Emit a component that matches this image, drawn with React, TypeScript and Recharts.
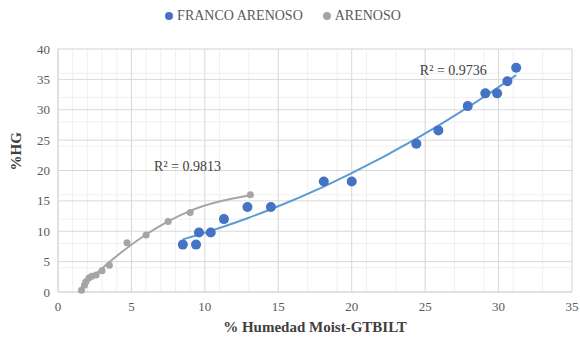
import {
  ComposedChart,
  Scatter,
  Line,
  XAxis,
  YAxis,
  CartesianGrid,
  ReferenceDot,
} from "recharts";

// FRANCO ARENOSO
const francoX = [8.5, 9.4, 9.6, 10.4, 11.3, 12.9, 14.5, 18.1, 20.0, 24.4, 25.9, 27.9, 29.1, 29.9, 30.6, 31.2];
const francoY = [7.8, 7.8, 9.8, 9.8, 12.0, 14.0, 14.0, 18.2, 18.2, 24.4, 26.6, 30.6, 32.7, 32.7, 34.7, 36.9];

// ARENOSO
const arenosoX = [1.6, 1.8, 1.9, 2.1, 2.3, 2.6, 3.0, 3.5, 4.7, 6.0, 7.5, 9.0, 13.1];
const arenosoY = [0.3, 1.1, 1.7, 2.3, 2.6, 2.8, 3.5, 4.4, 8.1, 9.4, 11.6, 13.1, 16.0];

const xTicks = [0, 5, 10, 15, 20, 25, 30, 35];
const yTicks = [0, 5, 10, 15, 20, 25, 30, 35, 40];
const minorX = Array.from({ length: 36 }, (_, i) => i);
const minorY = Array.from({ length: 41 }, (_, i) => i);

const BLUE = "#4472C4";
const BLUE_LINE = "#5B9BD5";
const GRAY = "#A5A5A5";
const FONT = "Liberation Serif";

const toPoints = (xs: number[], ys: number[]) => xs.map((x, i) => ({ x, y: ys[i] }));

// least squares, order 2 (same as the spreadsheet trendline)
function quadFit(xs: number[], ys: number[]) {
  let s0 = 0, s1 = 0, s2 = 0, s3 = 0, s4 = 0, t0 = 0, t1 = 0, t2 = 0;
  xs.forEach((x, i) => {
    const y = ys[i];
    s0 += 1; s1 += x; s2 += x * x; s3 += x * x * x; s4 += x * x * x * x;
    t0 += y; t1 += x * y; t2 += x * x * y;
  });
  const det = (m: number[][]) =>
    m[0][0] * (m[1][1] * m[2][2] - m[1][2] * m[2][1]) -
    m[0][1] * (m[1][0] * m[2][2] - m[1][2] * m[2][0]) +
    m[0][2] * (m[1][0] * m[2][1] - m[1][1] * m[2][0]);
  const A = [[s0, s1, s2], [s1, s2, s3], [s2, s3, s4]];
  const b = [t0, t1, t2];
  const D = det(A);
  const coef = [0, 1, 2].map((c) => det(A.map((row, r) => row.map((v, k) => (k === c ? b[r] : v)))) / D);
  return xs
    .slice()
    .sort((a, b) => a - b)
    .map((x) => ({ x, y: coef[0] + coef[1] * x + coef[2] * x * x }));
}

const francoData = toPoints(francoX, francoY);
const arenosoData = toPoints(arenosoX, arenosoY);
const francoFit = quadFit(francoX, francoY);
const arenosoFit = quadFit(arenosoX, arenosoY);

const dot = (fill: string, r: number) => (props: any) =>
  <circle cx={props.cx} cy={props.cy} r={r} fill={fill} />;

const legendItems = [
  { name: "FRANCO ARENOSO", color: BLUE },
  { name: "ARENOSO", color: GRAY },
];

const App = () => {
  return (
    <div style={{ position: "relative", width: 580, height: 344, fontFamily: FONT }}>
      <style>{"body{margin:0}"}</style>
      <div
        style={{
          position: "absolute",
          top: 8,
          left: 0,
          width: 566,
          display: "flex",
          justifyContent: "center",
          gap: 20,
          fontSize: 14,
          color: "#595959",
          fontFamily: FONT,
        }}
      >
        {legendItems.map((it) => (
          <span key={it.name} style={{ display: "flex", alignItems: "center" }}>
            <span style={{ width: 8, height: 8, borderRadius: "50%", background: it.color, marginRight: 4 }} />
            {it.name}
          </span>
        ))}
      </div>
      <ComposedChart
        width={580}
        height={344}
        margin={{ top: 49, right: 8, bottom: 20, left: 10 }}
        style={{ fontFamily: FONT }}
      >
        <CartesianGrid stroke="#f0f0f0" horizontalValues={minorY} verticalValues={minorX} />
        <CartesianGrid stroke="#d9d9d9" horizontalValues={yTicks} verticalValues={xTicks} />
        <XAxis
          type="number"
          dataKey="x"
          domain={[0, 35]}
          ticks={xTicks}
          height={32}
          tickLine={false}
          axisLine={{ stroke: "#d9d9d9" }}
          tick={{ fill: "#595959", fontSize: 13, fontFamily: FONT }}
          tickMargin={4}
          label={{
            value: "% Humedad Moist-GTBILT",
            position: "insideBottom",
            offset: -8,
            fill: "#404040",
            fontSize: 15,
            fontWeight: "bold",
            fontFamily: FONT,
          }}
        />
        <YAxis
          type="number"
          dataKey="y"
          domain={[0, 40]}
          ticks={yTicks}
          width={48}
          tickLine={false}
          axisLine={{ stroke: "#d9d9d9" }}
          tick={{ fill: "#595959", fontSize: 13, fontFamily: FONT }}
          label={{
            value: "%HG",
            angle: -90,
            position: "insideLeft",
            offset: 6,
            fill: "#404040",
            fontSize: 15,
            fontWeight: "bold",
            fontFamily: FONT,
          }}
        />
        <Line
          data={arenosoFit}
          dataKey="y"
          type="monotone"
          stroke={GRAY}
          strokeWidth={2}
          dot={false}
          legendType="none"
          isAnimationActive={false}
        />
        <Line
          data={francoFit}
          dataKey="y"
          type="monotone"
          stroke={BLUE_LINE}
          strokeWidth={2}
          dot={false}
          legendType="none"
          isAnimationActive={false}
        />
        <Scatter name="ARENOSO" data={arenosoData} fill={GRAY} shape={dot(GRAY, 3.5)} isAnimationActive={false} />
        <Scatter name="FRANCO ARENOSO" data={francoData} fill={BLUE} shape={dot(BLUE, 5)} isAnimationActive={false} />
        <ReferenceDot
          x={6.2}
          y={20.7}
          r={0}
          label={{ value: "R² = 0.9813", position: "right", fill: "#404040", fontSize: 14, fontFamily: FONT }}
        />
        <ReferenceDot
          x={24.3}
          y={36.5}
          r={0}
          label={{ value: "R² = 0.9736", position: "right", fill: "#404040", fontSize: 14, fontFamily: FONT }}
        />
      </ComposedChart>
    </div>
  );
};

export default App;
